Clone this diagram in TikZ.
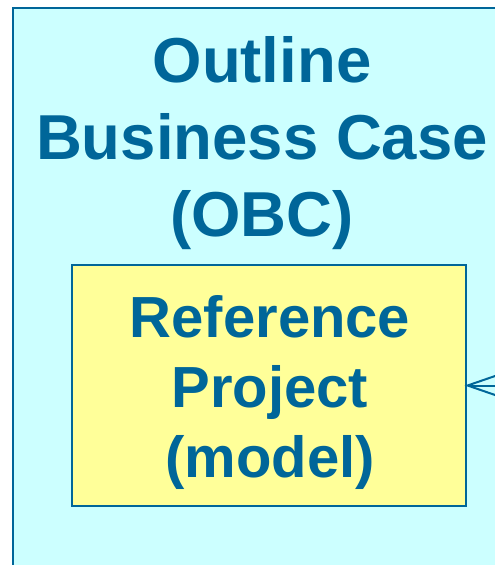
\documentclass[tikz,border=0pt]{standalone}
\usepackage{fontspec}
\setmainfont{Liberation Sans}
\usetikzlibrary{arrows.meta}
\definecolor{panelfill}{HTML}{CCFFFF}
\definecolor{boxfill}{HTML}{FFFF99}
\definecolor{inkblue}{HTML}{006699}
\tikzset{
  panel/.style={draw=inkblue, fill=panelfill, line width=2.4pt},
  modelbox/.style={draw=inkblue, fill=boxfill, line width=2.4pt, inner sep=0pt, outer sep=0pt},
  bigtitle/.style={text=inkblue, align=center, inner sep=0pt, anchor=base,
    font=\fontsize{63.5}{77}\selectfont\bfseries},
  boxtitle/.style={text=inkblue, align=center, inner sep=0pt, anchor=base,
    font=\fontsize{58}{70}\selectfont\bfseries},
  feed/.style={draw=inkblue, line width=2pt, shorten >=-1.5pt,
    -{Straight Barb[length=42pt,width=29pt,line width=2pt]}}
}
\begin{document}
\begin{tikzpicture}[x=1pt,y=-1pt]
  \useasboundingbox (0,0) rectangle (495,565);
  % outer phase panel (runs past the page edge)
  \path[panel] (13,8) rectangle (540,620);
  % base anchor sits on the last line's baseline
  \node[bigtitle] (obc) at (262,236) {Outline\\Business Case\\(OBC)};
  % reference project box
  \node[modelbox, minimum width=394pt, minimum height=241pt] (ref) at (269,385.5) {};
  \node[boxtitle] (reflabel) at (270,477) {Reference\\Project\\(model)};
  % incoming link from the right
  \coordinate (src) at (540,385.5);
  \draw[feed] (src) -- (ref.east);
\end{tikzpicture}
\end{document}
